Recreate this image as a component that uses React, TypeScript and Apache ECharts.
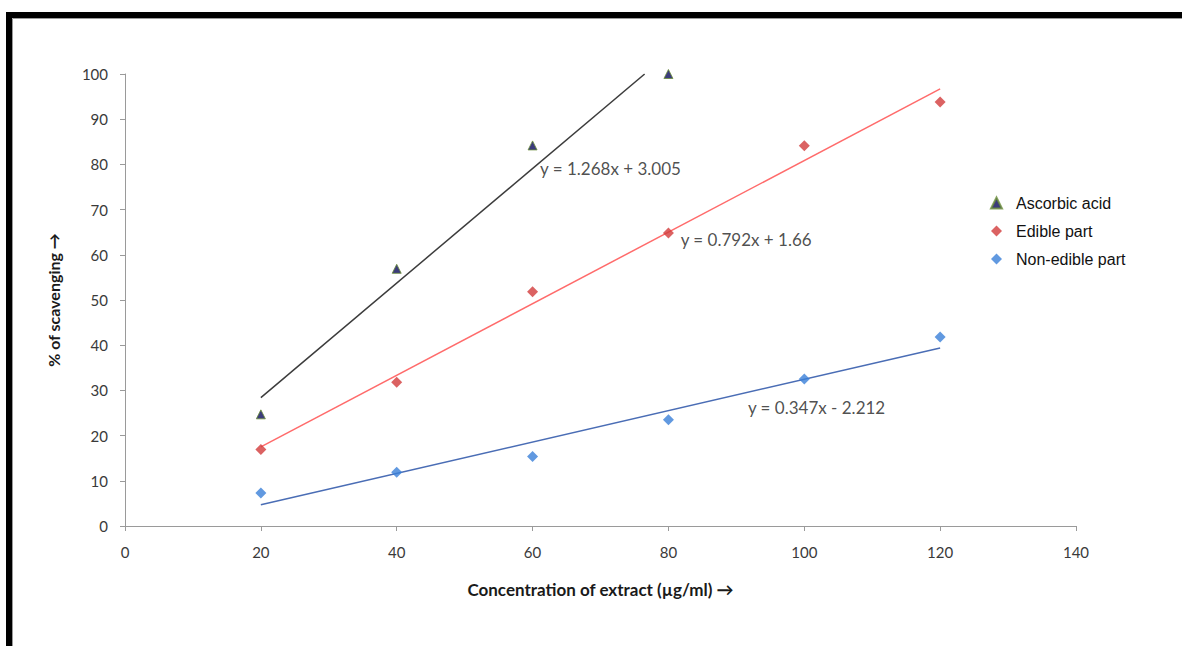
import React, { useEffect, useRef } from "react";
import * as echarts from "echarts";

const concentrations = [20, 40, 60, 80, 100, 120];
const ascorbicValues = [24.7, 56.9, 84.2, 100];
const edibleValues = [16.9, 31.8, 51.8, 64.8, 84.1, 93.8];
const nonEdibleValues = [7.3, 11.9, 15.4, 23.5, 32.5, 41.8];

const ascorbicTrend = [[20, 28.4], [76.5, 100]];
const edibleTrend = [[20, 17.5], [120, 96.7]];
const nonEdibleTrend = [[20, 4.7], [120, 39.4]];

const equations = [
  { text: "y = 1.268x + 3.005", at: [61.1, 79.2] },
  { text: "y = 0.792x + 1.66", at: [81.8, 63.3] },
  { text: "y = 0.347x - 2.212", at: [91.7, 26.3] },
];

const seriesNames = ["Ascorbic acid", "Edible part", "Non-edible part"];
const xTitle = "Concentration of extract (µg/ml) \u2192";
const yTitle = "% of scavenging \u2192";

const pair = (vals: number[]) => vals.map((v, i) => [concentrations[i], v]);

export default function App() {
  const ref = useRef<HTMLDivElement>(null);
  useEffect(() => {
    const chart = echarts.init(ref.current!, undefined, { renderer: "svg" });
    const labelFont = "Lato, 'Open Sans', sans-serif";
    chart.setOption({
      animation: false,
      backgroundColor: "#ffffff",
      grid: { left: 125, right: 106, top: 74, bottom: 120 },
      xAxis: {
        type: "value",
        min: 0,
        max: 140,
        interval: 20,
        name: xTitle,
        nameLocation: "middle",
        nameGap: 55,
        nameTextStyle: { fontFamily: labelFont, fontWeight: "bold", fontSize: 17, color: "#1a1a1a" },
        axisLine: { show: true, lineStyle: { color: "#9a9a9a", width: 1 } },
        axisTick: { show: true, inside: false, length: 5, lineStyle: { color: "#9a9a9a" } },
        axisLabel: { fontFamily: labelFont, fontSize: 15, color: "#3a3a3a", margin: 18 },
        splitLine: { show: false },
      },
      yAxis: {
        type: "value",
        min: 0,
        max: 100,
        interval: 10,
        name: yTitle,
        nameLocation: "middle",
        nameGap: 64,
        nameRotate: 90,
        nameTextStyle: { fontFamily: labelFont, fontWeight: "bold", fontSize: 16, color: "#1a1a1a" },
        axisLine: { show: true, lineStyle: { color: "#9a9a9a", width: 1 } },
        axisTick: { show: true, inside: false, length: 5, lineStyle: { color: "#9a9a9a" } },
        axisLabel: { fontFamily: labelFont, fontSize: 15, color: "#3a3a3a", margin: 17 },
        splitLine: { show: false },
      },
      legend: {
        orient: "vertical",
        left: 985,
        top: 190,
        itemGap: 12,
        itemWidth: 11,
        itemHeight: 11,
        data: [
          { name: seriesNames[0], icon: "triangle" },
          { name: seriesNames[1], icon: "diamond" },
          { name: seriesNames[2], icon: "diamond" },
        ],
        textStyle: { fontFamily: "'Liberation Sans', Arial, sans-serif", fontSize: 16, color: "#111", padding: [0, 0, 0, 9] },
      },
      series: [
        {
          name: "trend-ascorbic",
          type: "line",
          data: ascorbicTrend,
          symbol: "none",
          lineStyle: { color: "#3c3c3c", width: 1.5 },
          z: 1,
        },
        {
          name: "trend-edible",
          type: "line",
          data: edibleTrend,
          symbol: "none",
          lineStyle: { color: "#ff6b6b", width: 1.5 },
          z: 1,
        },
        {
          name: "trend-nonedible",
          type: "line",
          data: nonEdibleTrend,
          symbol: "none",
          lineStyle: { color: "#4a6db5", width: 1.5 },
          z: 1,
        },
        {
          name: seriesNames[0],
          type: "scatter",
          data: pair(ascorbicValues),
          symbol: "triangle",
          symbolSize: 9,
          itemStyle: { color: "#0b0b5a", borderColor: "#6b8e3a", borderWidth: 1 },
          z: 3,
        },
        {
          name: seriesNames[1],
          type: "scatter",
          data: pair(edibleValues),
          symbol: "diamond",
          symbolSize: 11,
          itemStyle: { color: "#d23b3b" },
          z: 3,
        },
        {
          name: seriesNames[2],
          type: "scatter",
          data: pair(nonEdibleValues),
          symbol: "diamond",
          symbolSize: 11,
          itemStyle: { color: "#3a80d8" },
          z: 3,
        },
        {
          name: "equations",
          type: "scatter",
          data: equations.map((e) => ({ value: e.at, label: { formatter: e.text } })),
          symbolSize: 0,
          silent: true,
          label: {
            show: true,
            position: [0, 0],
            align: "left",
            verticalAlign: "middle",
            fontFamily: labelFont,
            fontSize: 17,
            color: "#222",
          },
          z: 4,
        },
      ],
      graphic: [
        {
          type: "rect",
          shape: { x: 9, y: 15, width: 1400, height: 1000 },
          style: { fill: "none", stroke: "#000", lineWidth: 6 },
          silent: true,
        },
        {
          type: "rect",
          shape: { x: 12.5, y: 18.5, width: 1400, height: 1000 },
          style: { fill: "none", stroke: "#9a9a9a", lineWidth: 1 },
          silent: true,
        },
      ],
    });
    return () => chart.dispose();
  }, []);
  return (
    <div
      ref={ref}
      style={{ position: "fixed", left: 0, top: 0, width: 1182, height: 646, background: "#fff" }}
    />
  );
}
